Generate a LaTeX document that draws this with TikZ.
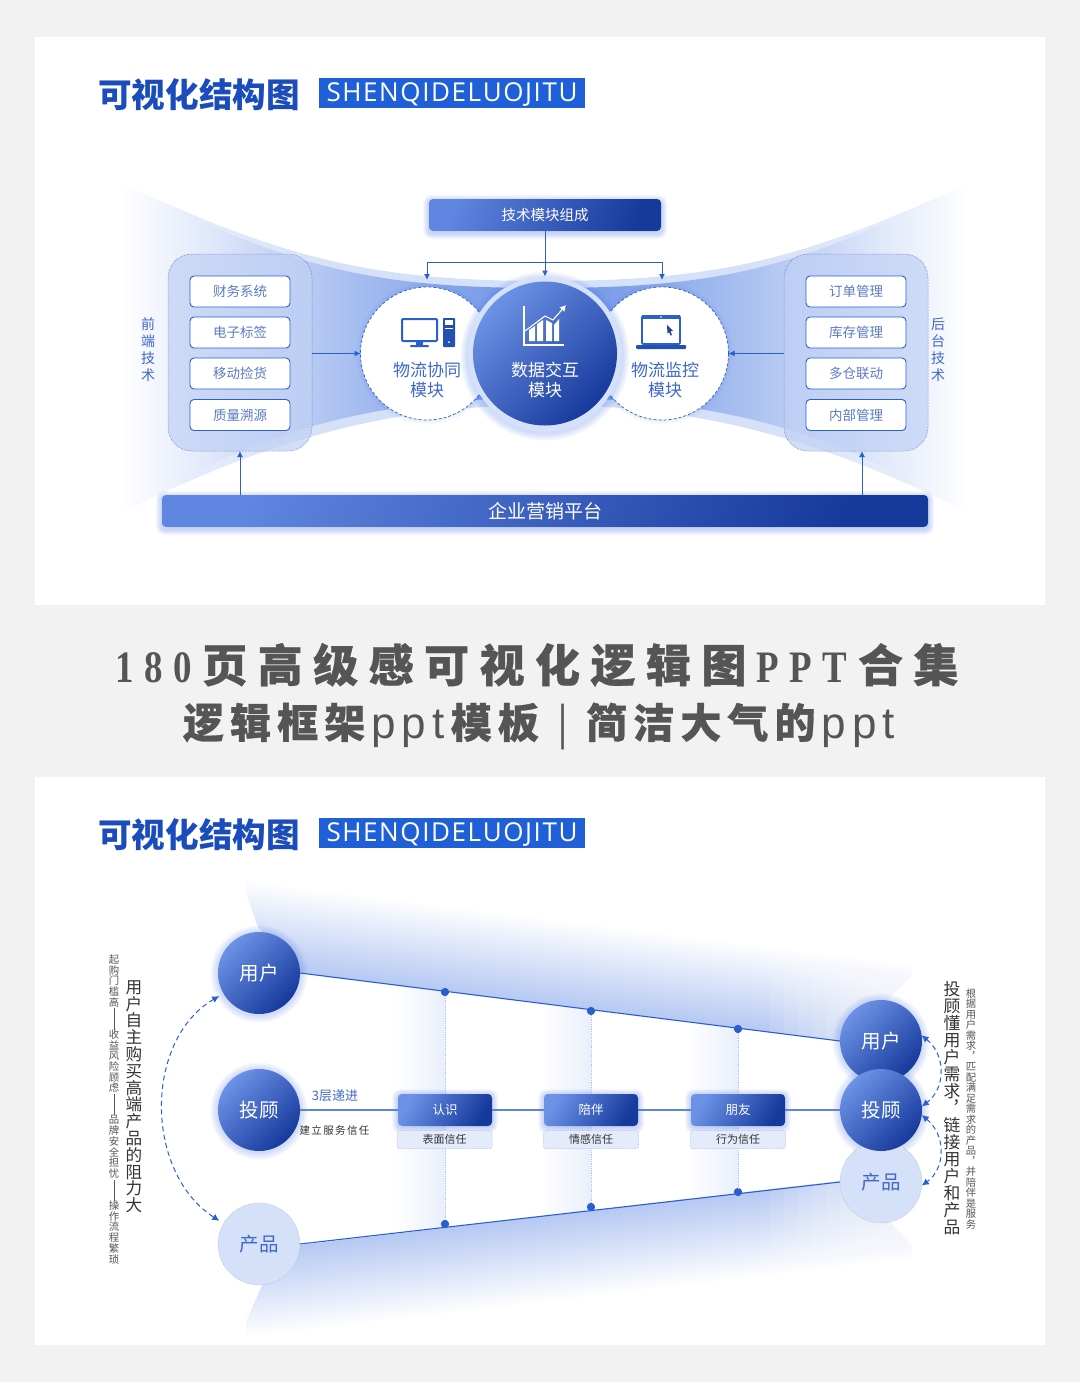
\documentclass[tikz,border=0pt]{standalone}
\usepackage{fontspec}
\usepackage{xparse}
\usetikzlibrary{arrows.meta,calc}
\setmainfont{Noto Sans CJK SC}
\newfontfamily\capfam{Noto Sans CJK SC}[BoldFeatures={FakeBold=0.7}]
\newfontfamily\vertfam{Noto Sans CJK SC}[RawFeature=+vert]
\newfontface\serifnarrow{Liberation Serif Bold}[FakeStretch=0.82]
\newfontfamily\latinsans{Liberation Sans}
\newfontfamily\headlatin{Open Sans}
\definecolor{pagebg}{HTML}{F2F2F2}
\definecolor{gradA}{HTML}{6C92E6}
\definecolor{gradB}{HTML}{16399C}
\definecolor{barA}{HTML}{5F86E0}
\definecolor{line}{HTML}{2A5FD0}
\definecolor{midline}{HTML}{5E84D8}
\definecolor{txtblue}{HTML}{3F68C8}
\definecolor{boxtxt}{HTML}{5A7BC6}
\definecolor{glowblue}{HTML}{3F6FE8}
\definecolor{panelfill}{HTML}{BFD0F5}
\definecolor{palefill}{HTML}{D5E1F8}
\definecolor{subfill}{HTML}{E4EBFA}
\definecolor{headblue}{HTML}{1F60D8}
\definecolor{titleblue}{HTML}{1A4DBB}
\definecolor{graytxt}{HTML}{555555}
\definecolor{darktxt}{HTML}{333333}
\pgfdeclarehorizontalshading{funnelouter}{100bp}{color(0bp)=(white); color(25bp)=(white); color(29bp)=(palefill!60!white); color(37.5bp)=(palefill); color(62.5bp)=(palefill); color(71bp)=(palefill!60!white); color(75bp)=(white); color(100bp)=(white)}
\pgfdeclarehorizontalshading{funnelinner}{100bp}{color(0bp)=(white); color(25bp)=(white); color(30bp)=(gradA!20!white); color(37.5bp)=(gradA!55!white); color(45bp)=(gradA!85!white); color(50bp)=(gradA); color(55bp)=(gradA!85!white); color(62.5bp)=(gradA!55!white); color(70bp)=(gradA!20!white); color(75bp)=(white); color(100bp)=(white)}
\newdimen\vp
\newcommand\vcell[1]{\hbox to \vp{\hss\smash{#1}\hss\vrule width 0pt height .8\vp depth .2\vp}}
\newcommand\vdashbar{\vrule width .6pt height .8\vp depth .2\vp}
\newcommand\vcomma{{\vertfam ，}}
\newcommand\sanslat[1]{{\latinsans\mdseries\fontsize{44}{44}\selectfont #1}}
\newcommand\serifch[1]{{\serifnarrow #1}}
\ExplSyntaxOn
\NewDocumentCommand\vtxt{mm}{\vbox{\offinterlineskip\vp=#1\relax\tl_map_inline:nn{#2}{\vcell{##1}}}}
\NewDocumentCommand\spreadtxt{mm}{\hbox to #1{\tl_map_inline:nn{#2}{{##1}\hfill}\unskip}}
\ExplSyntaxOff
\newcommand\glowcirc[3]{\foreach \w in {3,6,9,12,15}{\draw[glowblue,opacity=.05,line width=\w pt] (#1,#2) circle [radius=#3pt];}}
\newcommand\glowrect[5][3]{\foreach \w in {2,4,6,8,10,12}{\draw[glowblue,opacity=.05,line width=\w pt,rounded corners=#1pt] (#2,#3) rectangle (#4,#5);}}
\tikzset{
  x=1pt,y=-1pt,
  every node/.style={inner sep=0pt,outer sep=0pt},
  gradbar/.style={rectangle,rounded corners=4pt,left color=barA,right color=gradB,shading angle=70,text=white},
  gradcirc/.style={circle,minimum size=82pt,left color=gradA,right color=gradB,shading angle=45,text=white,font=\fontsize{19.5}{20}\selectfont},
  palecirc/.style={circle,minimum size=82pt,fill=palefill,draw=gray!60,densely dotted,line width=.5pt,text=txtblue,font=\fontsize{19.5}{20}\selectfont},
  itembox/.style={rectangle,rounded corners=4pt,draw=line,line width=.9pt,fill=white,minimum width=100pt,minimum height=31pt,text=boxtxt,font=\fontsize{13.5}{13.5}\selectfont},
  modcirc/.style={circle,minimum size=133pt,fill=white,draw=line,densely dashed,line width=.7pt},
  sidepanel/.style={rectangle,rounded corners=24pt,minimum width=144pt,minimum height=197pt,fill=panelfill,fill opacity=.7,draw=gray!70!blue,densely dotted,line width=.5pt},
  conn/.style={line,line width=1pt,-{Latex[length=6pt,width=6pt]}},
  dasharc/.style={line,line width=1pt,dash pattern=on 5pt off 3.5pt,{Latex[length=7pt,width=7pt]}-{Latex[length=7pt,width=7pt]}},
  stepchip/.style={rectangle,rounded corners=4pt,minimum width=94pt,minimum height=32pt,left color=gradA,right color=gradB,shading angle=60,text=white,font=\fontsize{12.5}{12.5}\selectfont},
  subchip/.style={rectangle,rounded corners=2pt,minimum width=95pt,minimum height=18pt,fill=subfill,draw=gray!45!blue!50,densely dotted,line width=.5pt,text=darktxt,font=\fontsize{11}{11}\selectfont},
  dotnode/.style={circle,fill=line,minimum size=8pt},
  modtxt/.style={align=center,text=txtblue,font=\fontsize{17}{20}\selectfont},
  sidetxt/.style={text=txtblue,font=\fontsize{14}{14}\selectfont},
}
\begin{document}
\begin{tikzpicture}
\useasboundingbox (0,0) rectangle (1080,1382);
\fill[pagebg] (0,0) rectangle (1080,1382);
\fill[white] (35,37) rectangle (1045,605);
\fill[white] (35,777) rectangle (1045,1345);

% ---------- headers
\node[text=titleblue,font=\bfseries\fontsize{33.6}{34}\selectfont] (title1) at (199,95) {可视化结构图};
\node[fill=headblue,minimum width=266pt,minimum height=30pt] (tag1) at (452,93) {};
\node[text=white,font=\headlatin\fontsize{26}{26}\selectfont] (tagt1) at (452,95) {\spreadtxt{251pt}{SHENQIDELUOJITU}};
\node[text=titleblue,font=\bfseries\fontsize{33.6}{34}\selectfont] (title2) at (199,835) {可视化结构图};
\node[fill=headblue,minimum width=266pt,minimum height=30pt] (tag2) at (452,833) {};
\node[text=white,font=\headlatin\fontsize{26}{26}\selectfont] (tagt2) at (452,835) {\spreadtxt{251pt}{SHENQIDELUOJITU}};

% ---------- middle captions
\node[anchor=base,text=graytxt,font=\capfam\bfseries\fontsize{45}{45}\selectfont] (cap1) at (537,682)
 {\spreadtxt{843pt}{{\serifch 1}{\serifch 8}{\serifch 0}页高级感可视化逻辑图{\serifch P}{\serifch P}{\serifch T}合集}};
\node[anchor=base,text=graytxt,font=\capfam\bfseries\fontsize{41}{41}\selectfont] (cap2) at (539,738)
 {\spreadtxt{712pt}{逻辑框架{\sanslat p}{\sanslat p}{\sanslat t}模板{\hspace{12pt}\mdseries|\hspace{12pt}}简洁大气的{\sanslat p}{\sanslat p}{\sanslat t}}};

% ---------- top funnel
\shade[shading=funnelouter]
 (120,183) .. controls (280,255) and (360,281) .. (545,281)
 .. controls (730,281) and (810,255) .. (970,183) -- (970,513)
 .. controls (840,450) and (720,405) .. (545,405)
 .. controls (370,405) and (250,450) .. (120,513) -- cycle;
\shade[shading=funnelinner]
 (120,183) .. controls (290,268) and (370,288) .. (545,288)
 .. controls (720,288) and (800,268) .. (970,183) -- (970,513)
 .. controls (830,430) and (720,398) .. (545,398)
 .. controls (370,398) and (260,430) .. (120,513) -- cycle;

\node[sidepanel] (panelL) at (240,352.5) {};
\node[sidepanel] (panelR) at (856,352.5) {};
\node[sidetxt] (sideL) at (148,350) {\vtxt{17pt}{前端技术}};
\node[sidetxt] (sideR) at (938,350) {\vtxt{17pt}{后台技术}};

\node[itembox] (l1) at (240,291.5) {财务系统};
\node[itembox] (l2) at (240,332.5) {电子标签};
\node[itembox] (l3) at (240,373.5) {移动捡货};
\node[itembox] (l4) at (240,415) {质量溯源};
\node[itembox] (r1) at (856,291.5) {订单管理};
\node[itembox] (r2) at (856,332.5) {库存管理};
\node[itembox] (r3) at (856,373.5) {多仓联动};
\node[itembox] (r4) at (856,415) {内部管理};

% bars
\glowrect{429}{201}{661}{233}
\glowrect{162}{497}{928}{529}
\node[gradbar,minimum width=232pt,minimum height=32pt,font=\fontsize{14.5}{14.5}\selectfont] (topbar) at (545,215) {技术模块组成};
\node[gradbar,minimum width=766pt,minimum height=32pt,font=\fontsize{19}{19}\selectfont] (botbar) at (545,511) {企业营销平台};

% module circles
\foreach \w in {3,6,9}{\draw[glowblue,opacity=.03,line width=\w pt] (427,353.5) circle [radius=66.5pt];\draw[glowblue,opacity=.03,line width=\w pt] (662,353.5) circle [radius=66.5pt];}
\node[modcirc] (mL) at (427,353.5) {};
\node[modcirc] (mR) at (662,353.5) {};
\glowcirc{545}{356}{77}
\node[circle,fill=palefill,minimum size=154pt] (mCring) at (545,353.5) {};
\node[circle,minimum size=144pt,left color=gradA,right color=gradB,shading angle=45] (mC) at (545,353.5) {};

\node[modtxt] (mLt) at (427,380) {物流协同\\模块};
\node[modtxt] (mRt) at (665,380) {物流监控\\模块};
\node[modtxt,text=white] (mCt) at (545,380) {数据交互\\模块};

% connectors top
\coordinate (split) at ($(topbar.south)+(0,31)$);
\draw[conn] (topbar.south) -- (mCring.north);
\draw[conn] (split) -| ($(mL.north)+(0,-7)$);
\draw[conn] (split) -| ($(mR.north)+(0,-7)$);
\draw[conn] (mL.west -| panelL.east) -- (mL.west);
\draw[conn] (mR.east -| panelR.west) -- (mR.east);
\draw[conn] (botbar.north -| panelL) -- (panelL.south);
\draw[conn] ($(panelR.south)+(6,44)$) -- ($(panelR.south)+(6,0)$);

% icon: desktop
\draw[line width=2pt,rounded corners=1pt,draw=line] (402,319) rectangle (437,341);
\fill[line] (416,342) rectangle (423,345);
\fill[line,rounded corners=.8pt] (410,345) rectangle (429,347);
\fill[line!85!black,rounded corners=.8pt] (443,318) rectangle (455,347);
\fill[white] (445,320) rectangle (453,325);
\fill[white] (445,328) rectangle (453,329);
\fill[white] (449,342) circle [radius=1pt];
% icon: laptop
\draw[line width=1.6pt,rounded corners=1pt,draw=line] (642,316) rectangle (680,344);
\fill[line] (642,315) rectangle (680,319);
\fill[white] (661,317) circle [radius=.8pt];
\fill[line!85!black,rounded corners=1pt] (636,345) rectangle (686,349);
\fill[line!70!black] (667,325) -- (673,331) -- (670.5,331.3) -- (672,335) -- (670.5,335.5) -- (669,332) -- (667.5,333.5) -- cycle;
% icon: chart
\draw[white,line width=1.1pt] (524,306) -- (524,345) -- (564,345);
\fill[white] (529,330) -- (535,326) -- (535,341) -- (529,341) -- cycle;
\fill[white] (537,324) -- (543,320) -- (543,341) -- (537,341) -- cycle;
\fill[white] (546,320) -- (552,323) -- (552,341) -- (546,341) -- cycle;
\fill[white] (554,325) -- (559,319) -- (559,341) -- (554,341) -- cycle;
\draw[white,line width=1.1pt,-{Latex[length=6pt,width=7pt]}] (525,331) -- (545,316) -- (553,320) -- (566,305);

% ---------- bottom funnel shading
\begin{scope}
\clip (246,893) -- (258,927) -- (300,973) -- (840,1041) -- (890,997) -- (912,975) -- (912,860) -- (246,860) -- cycle;
\begin{scope}[transform canvas={rotate around={-7.18:(300,973)}}]
\shade[top color=white,middle color=gradA!12!white,bottom color=gradA!50!white] (150,887) rectangle (1000,973);
\end{scope}
\foreach \i in {0,...,9}{\fill[white,opacity=.1] (770+14*\i,950) rectangle (915,1045);}
\end{scope}
\begin{scope}
\clip (246,1322) -- (263,1283) -- (300,1245) -- (840,1181) -- (890,1222) -- (912,1246) -- (912,1340) -- (246,1340) -- cycle;
\begin{scope}[transform canvas={rotate around={6.76:(300,1245)}}]
\shade[bottom color=white,middle color=gradA!12!white,top color=gradA!50!white] (150,1245) rectangle (1000,1331);
\end{scope}
\foreach \i in {0,...,9}{\fill[white,opacity=.1] (770+14*\i,1175) rectangle (915,1290);}
\end{scope}
\begin{scope}
\clip (300,973) -- (840,1041) -- (840,1181) -- (300,1245) -- cycle;
\shade[left color=white,right color=gradA!15!white] (395,970) rectangle (445,1250);
\shade[left color=white,right color=gradA!15!white] (541,970) rectangle (591,1250);
\shade[left color=white,right color=gradA!15!white] (688,970) rectangle (738,1250);
\end{scope}

% bottom glows
\glowcirc{259}{974}{41}
\glowcirc{259}{1111}{41}
\glowcirc{881}{1042}{41}
\glowcirc{881}{1111}{41}
\glowrect{398}{1095}{492}{1127}
\glowrect{544}{1095}{638}{1127}
\glowrect{691}{1095}{785}{1127}

% bottom nodes
\node[gradcirc] (uL) at (259,973) {用户};
\node[gradcirc] (aL) at (259,1110) {投顾};
\node[palecirc] (pL) at (259,1244) {\raisebox{-3pt}{产品}};
\node[gradcirc] (uR) at (881,1041) {用户};
\node[palecirc] (pR) at (881,1182) {产品};
\node[gradcirc] (aR) at (881,1110) {投顾};

\node[dotnode] (t1) at (445,992) {};
\node[dotnode] (t2) at (591,1011) {};
\node[dotnode] (t3) at (738,1029) {};
\node[dotnode] (b1) at (445,1224) {};
\node[dotnode] (b2) at (591,1207) {};
\node[dotnode] (b3) at (738,1192) {};

\draw[line,line width=1.1pt] (uL.east) -- (uR.west);
\draw[line,line width=1.1pt] (pL.east) -- (pR.west);
\foreach \n in {t1,t2,t3,b1,b2,b3}{\fill[line] (\n) circle [radius=4pt];}
\draw[gradA!55!white,densely dotted,line width=.8pt] (t1) -- (b1);
\draw[gradA!55!white,densely dotted,line width=.8pt] (t2) -- (b2);
\draw[gradA!55!white,densely dotted,line width=.8pt] (t3) -- (b3);

\node[stepchip] (s1) at (445,1110) {认识};
\node[stepchip] (s2) at (591,1110) {陪伴};
\node[stepchip] (s3) at (738,1110) {朋友};
\node[subchip] (c1) at (444.5,1139.5) {表面信任};
\node[subchip] (c2) at (591,1139.5) {情感信任};
\node[subchip] (c3) at (738,1139.5) {行为信任};

\draw[midline,line width=1.2pt] (aL.east) -- (s1.west);
\draw[midline,line width=1.2pt] (s1.east) -- (s2.west);
\draw[midline,line width=1.2pt] (s2.east) -- (s3.west);
\draw[midline,line width=1.2pt] (s3.east) -- (aR.west);

\node[text=txtblue,font=\fontsize{13}{13}\selectfont] (lab1) at (335,1096) {3层递进};
\node[text=darktxt,font=\fontsize{10.5}{11}\selectfont] (lab2) at (334.5,1130) {\spreadtxt{70pt}{建立服务信任}};

% dashed arcs
\draw[dasharc,shorten <=5pt,shorten >=5pt] (uL.210) .. controls (144,1040) and (144,1172) .. (pL.150);
\draw[dasharc] (uR.8) .. controls (946,1055) and (946,1088) .. (aR.5);
\draw[dasharc] (aR.-7) .. controls (946,1135) and (946,1168) .. (pR.-5);

% vertical texts
\node[text=darktxt,font=\fontsize{16.6}{17}\selectfont] (vL1) at (134,1097.5) {\vtxt{16.8pt}{用户自主购买高端产品的阻力大}};
\node[text=graytxt,font=\fontsize{10.4}{10.5}\selectfont] (vL2) at (114,1110) {\vtxt{10.7pt}{起购门槛高{\vdashbar}{\vdashbar}收益风险顾虑{\vdashbar}{\vdashbar}品牌安全担忧{\vdashbar}{\vdashbar}操作流程繁琐}};
\node[text=darktxt,font=\fontsize{16.8}{17}\selectfont] (vR1) at (952,1109) {\vtxt{17pt}{投顾懂用户需求{\vcomma}链接用户和产品}};
\node[text=graytxt,font=\fontsize{10.3}{10.5}\selectfont] (vR2) at (971,1109.5) {\vtxt{10.5pt}{根据用户需求{\vcomma}匹配满足需求的产品{\vcomma}并陪伴是服务}};
\end{tikzpicture}
\end{document}
